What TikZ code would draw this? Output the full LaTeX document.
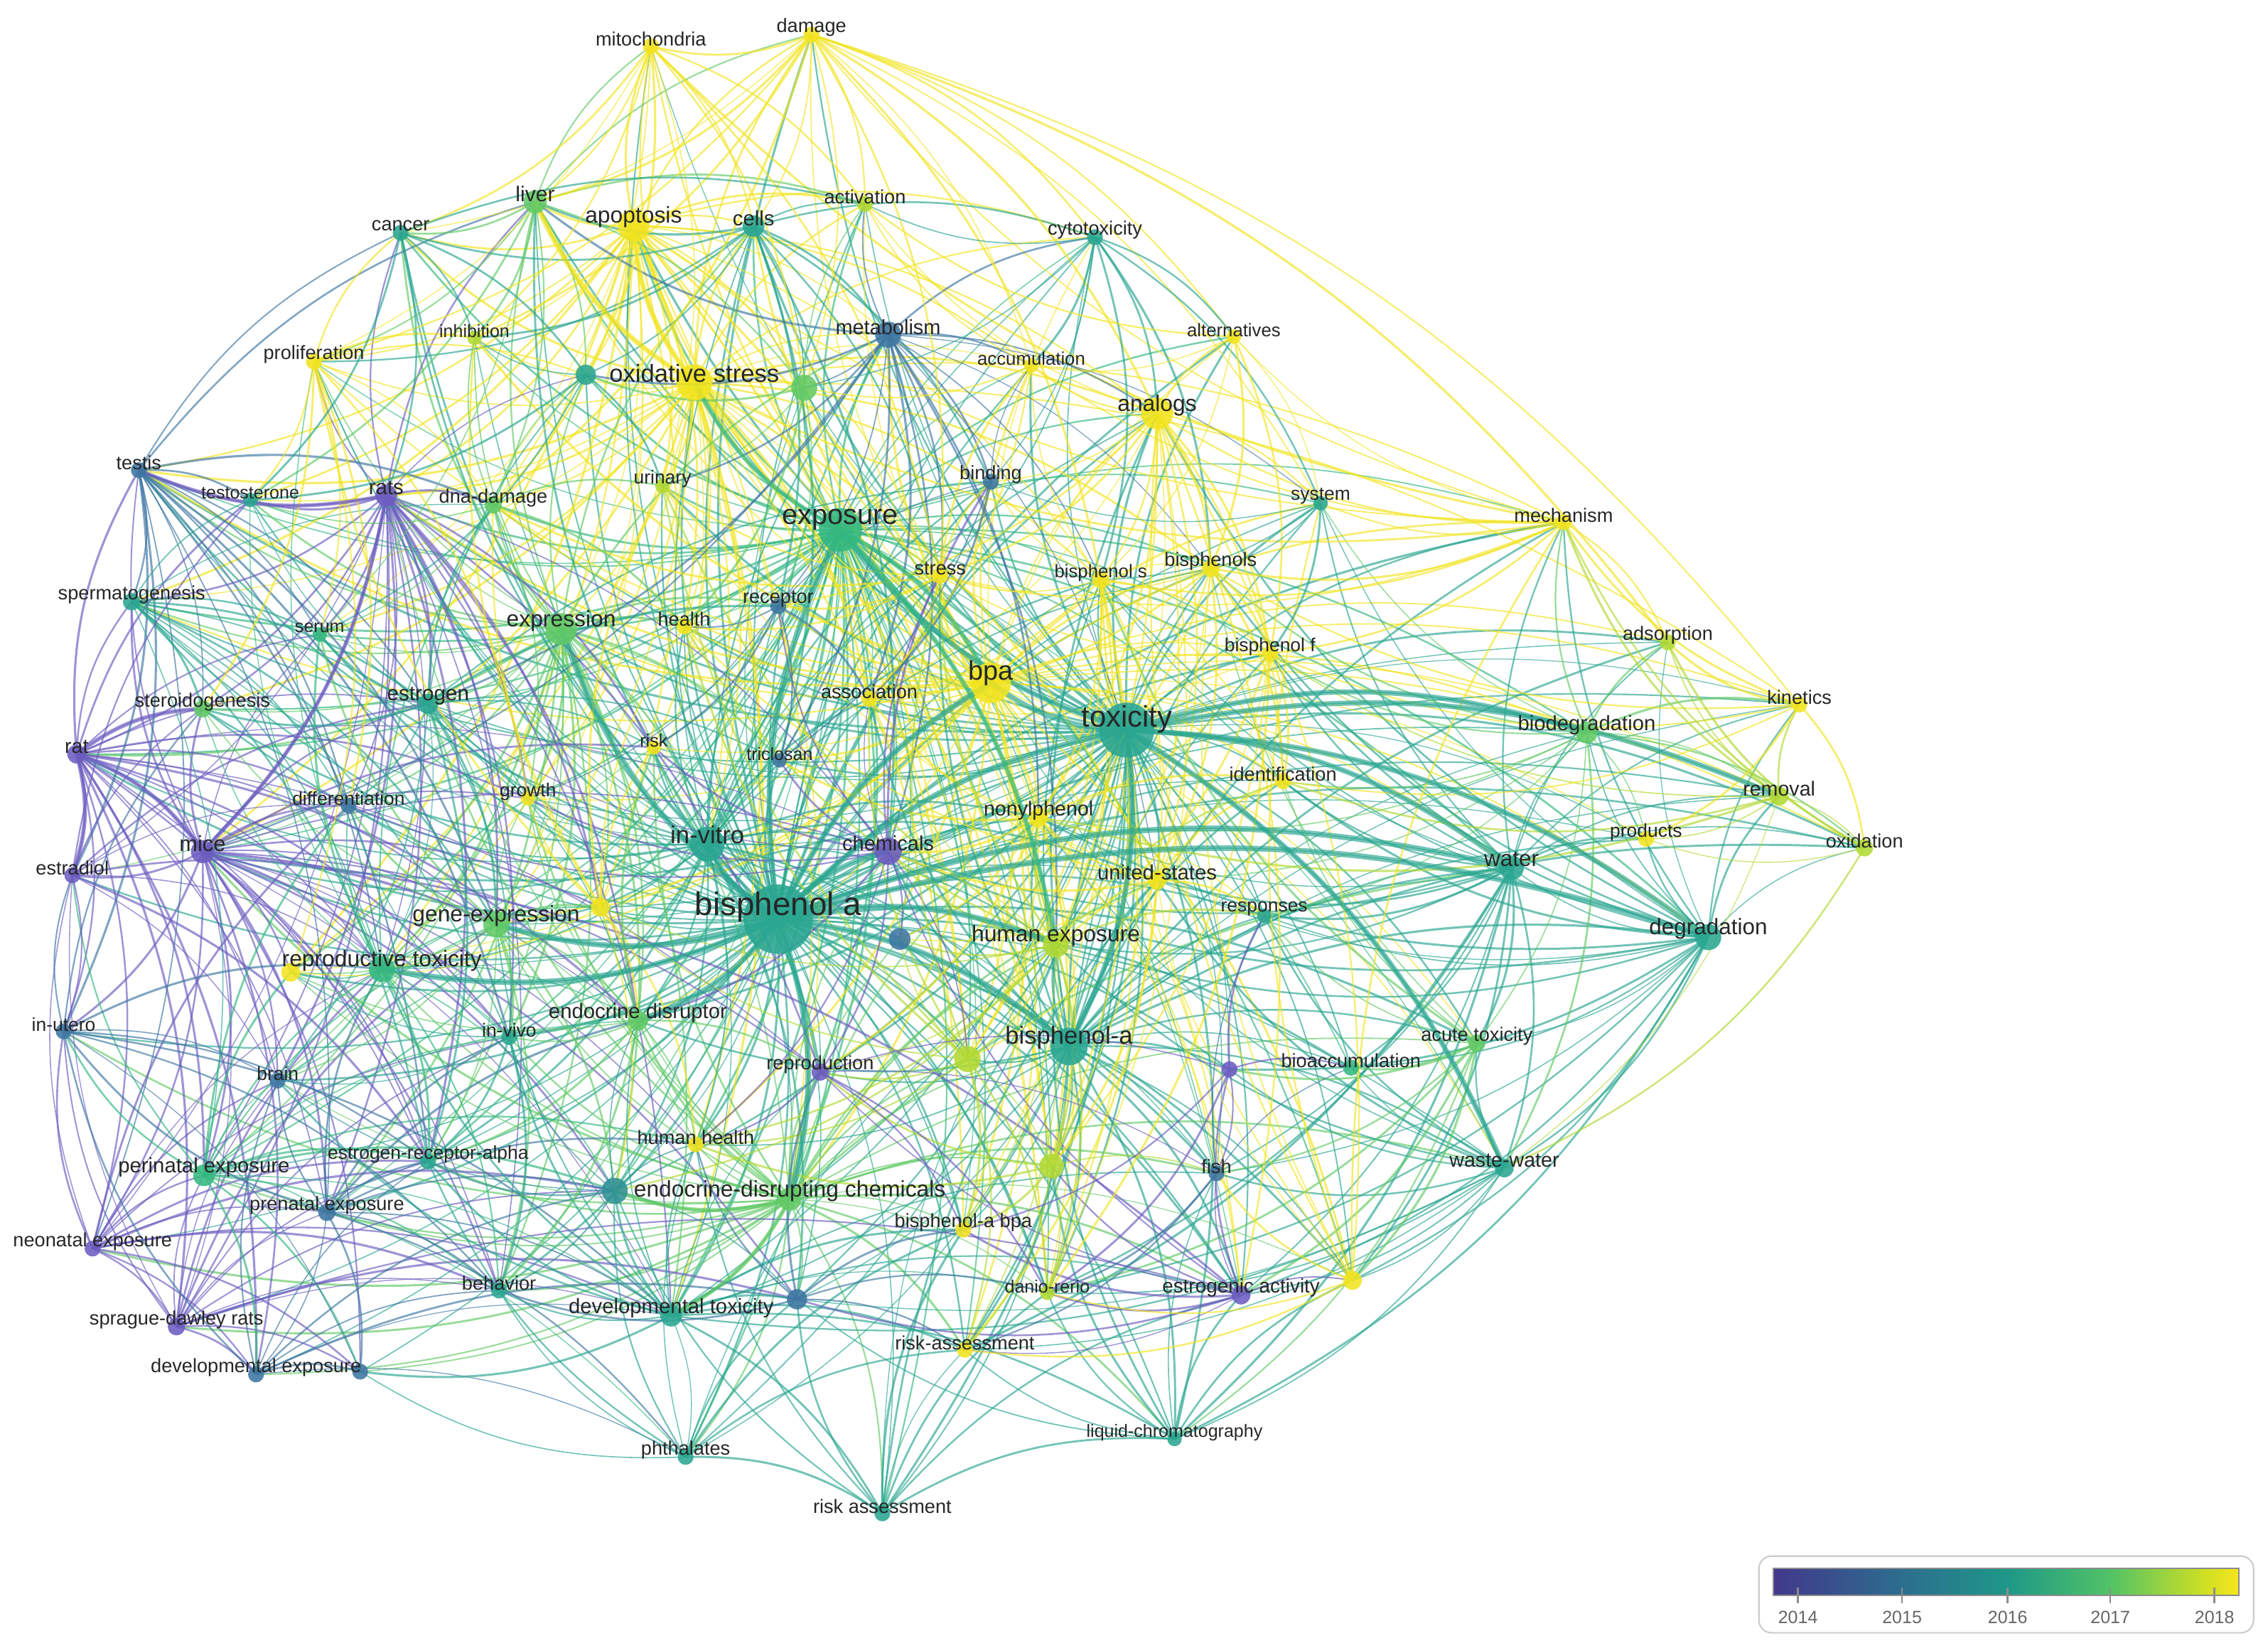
\documentclass[tikz,border=0pt]{standalone}
\usepackage{fontspec}
\setmainfont{Liberation Sans}
\usetikzlibrary{backgrounds}
\pgfdeclarelayer{edges}
\pgfdeclarelayer{dots}
\pgfsetlayers{edges,dots,main}
\definecolor{c14}{RGB}{108,92,192}
\definecolor{c15}{RGB}{62,118,162}
\definecolor{c155}{RGB}{48,145,148}
\definecolor{c16}{RGB}{42,166,145}
\definecolor{c165}{RGB}{52,184,128}
\definecolor{c17}{RGB}{98,202,102}
\definecolor{c175}{RGB}{178,217,52}
\definecolor{c18}{RGB}{242,228,32}
\tikzset{
  dot/.style={circle, inner sep=0pt, draw=none, fill opacity=0.88},
  lbl/.style={inner sep=0pt, text=black!85},
  edge/.style={line width={0.35pt+0.55pt*rnd}, draw opacity=0.66},
}
\newcommand\kw[7]{%
  \colorlet{k#1}{#5}%
  \begin{pgfonlayer}{dots}\node[dot, fill=#5, minimum size=#4*0.02cm] (#1) at (#2,#3+0.65*#6) {};\end{pgfonlayer}%
  \node[lbl, font=\fontsize{#6}{#6}\selectfont] (#1-t) at (#2,#3) {#7};}
\newcommand\kwu[5]{%
  \colorlet{k#1}{#5}%
  \begin{pgfonlayer}{dots}\node[dot, fill=#5, minimum size=#4*0.02cm] (#1) at (#2,#3) {};\end{pgfonlayer}}
\newcommand\hub[2]{\begin{pgfonlayer}{edges}\foreach \t in {#2}{\draw[edge, draw=k#1] (#1.center) to[bend left=17] (\t.center);}\end{pgfonlayer}}
\newcommand\hubw[3]{\begin{pgfonlayer}{edges}\foreach \t in {#3}{\draw[edge, line width=#2pt, draw=k#1] (#1.center) to[bend left=17] (\t.center);}\end{pgfonlayer}}
\begin{document}
\begin{tikzpicture}[x=0.02cm, y=-0.02cm]
\pgfmathsetseed{7}
\useasboundingbox (0,0) rectangle (1568,1139);
% ---------------- keywords ----------------
\kw{mito}{450}{27}{11}{c18}{7.6}{mitochondria}
\kw{damage}{561}{19}{11}{c18}{7.6}{damage}
\kw{liver}{370}{134}{16}{c17}{8.4}{liver}
\kw{apop}{438}{150}{22}{c18}{8.9}{apoptosis}
\kw{cells}{521}{151}{15}{c16}{8.2}{cells}
\kw{activ}{598}{136}{11}{c175}{7.6}{activation}
\kw{cytotox}{757}{159}{11}{c16}{7.6}{cytotoxicity}
\kw{cancer}{277}{156}{11}{c16}{7.6}{cancer}
\kw{inhib}{328}{229}{10}{c175}{7}{inhibition}
\kw{prolif}{217}{245}{11}{c18}{7.6}{proliferation}
\kw{oxs}{480}{258}{25}{c18}{9.7}{oxidative stress}
\kwu{tl1}{405}{259}{14}{c16}
\kwu{gn2}{556}{268}{18}{c17}
\kw{metab}{614}{226}{18}{c15}{8.1}{metabolism}
\kw{accum}{713}{248}{10}{c18}{7.2}{accumulation}
\kw{altern}{853}{228}{10}{c18}{7.2}{alternatives}
\kw{analogs}{800}{280}{22}{c18}{8.9}{analogs}
\kw{testis}{96}{320}{11}{c15}{7.6}{testis}
\kw{testost}{173}{341}{10}{c16}{7}{testosterone}
\kw{rats}{267}{337}{15}{c14}{8.2}{rats}
\kw{dnad}{341}{344}{12}{c17}{7.6}{dna-damage}
\kw{urinary}{458}{331}{10}{c175}{7.4}{urinary}
\kw{expo}{581}{359}{30}{c165}{11.1}{exposure}
\kw{binding}{685}{328}{11}{c15}{7.6}{binding}
\kw{system}{913}{343}{10}{c16}{7.4}{system}
\kw{mech}{1081}{356}{11}{c18}{7.6}{mechanism}
\kw{sperm}{91}{411}{12}{c16}{7.6}{spermatogenesis}
\kw{serum}{221}{434}{10}{c165}{7}{serum}
\kw{expr}{388}{429}{22}{c17}{8.9}{expression}
\kw{health}{473}{428}{11}{c18}{7.6}{health}
\kw{receptor}{538}{414}{11}{c15}{7.6}{receptor}
\kw{stress}{650}{393}{11}{c18}{7.6}{stress}
\kw{bps}{761}{396}{12}{c18}{7.2}{bisphenol s}
\kw{bisphs}{837}{388}{12}{c18}{7.6}{bisphenols}
\kw{bpf}{878}{447}{11}{c18}{7.4}{bisphenol f}
\kw{adsorp}{1153}{439}{11}{c175}{7.6}{adsorption}
\kw{steroid}{140}{485}{12}{c17}{7.6}{steroidogenesis}
\kw{estrogen}{296}{481}{14}{c16}{8.3}{estrogen}
\kw{assoc}{601}{478}{11}{c18}{7.6}{association}
\kw{bpa}{685}{465}{28}{c18}{10.6}{bpa}
\kw{tox}{779}{497}{38}{c16}{11.7}{toxicity}
\kw{kinetics}{1244}{482}{11}{c18}{7.6}{kinetics}
\kw{rat}{53}{516}{13}{c14}{8}{rat}
\kw{risk}{452}{512}{10}{c18}{7}{risk}
\kw{triclosan}{539}{521}{10}{c15}{7}{triclosan}
\kw{biodeg}{1097}{501}{15}{c17}{8.2}{biodegradation}
\kw{diff}{241}{552}{11}{c15}{7.4}{differentiation}
\kw{growth}{365}{547}{10}{c18}{7.4}{growth}
\kw{ident}{887}{535}{11}{c18}{7.6}{identification}
\kw{removal}{1230}{545}{13}{c175}{8}{removal}
\kw{mice}{140}{583}{16}{c14}{8.6}{mice}
\kw{invitro}{489}{577}{24}{c16}{9.7}{in-vitro}
\kw{chem}{614}{583}{19}{c14}{8.1}{chemicals}
\kw{nonyl}{718}{560}{13}{c18}{8}{nonylphenol}
\kw{products}{1138}{575}{11}{c18}{7.4}{products}
\kw{oxid}{1289}{581}{12}{c175}{7.6}{oxidation}
\kw{estradiol}{50}{600}{11}{c14}{7.6}{estradiol}
\kw{water}{1045}{594}{17}{c16}{8.8}{water}
\kw{us}{800}{603}{13}{c18}{8.2}{united-states}
\kw{geneexp}{343}{633}{18}{c17}{8.9}{gene-expression}
\kw{bpaA}{538}{627}{48}{c16}{12.8}{bisphenol a}
\kwu{yl3}{415}{627}{13}{c18}
\kwu{bl4}{622}{649}{15}{c15}
\kw{humexp}{730}{647}{18}{c175}{8.9}{human exposure}
\kw{responses}{874}{628}{10}{c16}{7.4}{responses}
\kw{degrad}{1181}{642}{18}{c16}{8.8}{degradation}
\kw{reprotox}{264}{664}{18}{c165}{8.9}{reproductive toxicity}
\kwu{yl5}{201}{672}{13}{c18}
\kw{inutero}{44}{708}{11}{c15}{7.4}{in-utero}
\kw{endodis}{441}{700}{14}{c17}{8.2}{endocrine disruptor}
\kw{invivo}{352}{712}{11}{c16}{7.4}{in-vivo}
\kw{bpaB}{739}{717}{26}{c16}{9.7}{bisphenol-a}
\kw{acute}{1021}{716}{12}{c17}{7.6}{acute toxicity}
\kw{bioacc}{934}{733}{11}{c165}{7.6}{bioaccumulation}
\kwu{pu6}{850}{739}{11}{c14}
\kw{repro}{567}{736}{12}{c14}{7.6}{reproduction}
\kwu{gn7}{669}{732}{18}{c175}
\kw{brain}{192}{742}{11}{c15}{7.4}{brain}
\kw{era}{296}{798}{11}{c16}{7.4}{estrogen-receptor-alpha}
\kw{humhealth}{481}{786}{11}{c18}{7.6}{human health}
\kw{perinatal}{141}{807}{15}{c165}{8.2}{perinatal exposure}
\kwu{gn8}{727}{806}{17}{c175}
\kw{fish}{841}{806}{11}{c15}{7.6}{fish}
\kw{ww}{1040}{802}{13}{c16}{8}{waste-water}
\kw{edc}{546}{823}{16}{c17}{8.9}{endocrine-disrupting chemicals}
\kwu{tl9}{425}{823}{18}{c155}
\kw{prenatal}{226}{833}{12}{c15}{7.6}{prenatal exposure}
\kw{neonatal}{64}{858}{11}{c14}{7.6}{neonatal exposure}
\kw{bpabpa}{666}{845}{11}{c18}{7.6}{bisphenol-a bpa}
\kw{behavior}{345}{887}{11}{c16}{7.6}{behavior}
\kw{devtox}{464}{904}{15}{c16}{8.2}{developmental toxicity}
\kwu{bl10}{551}{898}{14}{c15}
\kw{danio}{724}{889}{10}{c175}{7}{danio-rerio}
\kw{estract}{858}{890}{13}{c14}{7.8}{estrogenic activity}
\kwu{yl11}{935}{885}{13}{c18}
\kw{sdrats}{122}{912}{12}{c14}{7.6}{sprague-dawley rats}
\kw{devexp}{177}{945}{11}{c15}{7.6}{developmental exposure}
\kwu{dexp2}{249}{948}{11}{c15}
\kw{riskass2}{667}{928}{11}{c18}{7.6}{risk-assessment}
\kw{phthal}{474}{1002}{11}{c16}{7.6}{phthalates}
\kw{lcms}{812}{990}{10}{c16}{7}{liquid-chromatography}
\kw{riskass}{610}{1041}{11}{c16}{7.6}{risk assessment}
% ---------------- links ----------------
\hub{bpaA}{testis,sperm,rat,rats,mice,estradiol,inutero,neonatal,sdrats,devexp,dexp2,perinatal,prenatal,brain,reprotox,yl5,geneexp,invivo,endodis,era,behavior,devtox,phthal,riskass,tl9,bl10,edc,humhealth,repro,bpabpa,riskass2,danio,estract,yl11,lcms,fish,ww,gn8,gn7,bpaB,pu6,bioacc,acute,degrad,water,responses,humexp,us,bl4,chem,nonyl,invitro,yl3,growth,diff,risk,triclosan,assoc,bpa,tox,ident,biodeg,removal,kinetics,products,estrogen,steroid,serum,expr,health,receptor,stress,expo,urinary,dnad,testost,oxs,tl1,gn2,apop,liver,cells,metab,cancer,prolif,inhib,mito,damage,cytotox,activ,analogs,bps,bisphs,bpf,mech,system,binding,accum,altern,adsorp,oxid}
\hub{tox}{expo,oxs,apop,cells,metab,analogs,bps,bisphs,bpf,mech,system,adsorp,kinetics,biodeg,removal,oxid,products,water,degrad,acute,ww,bioacc,fish,estract,yl11,danio,lcms,riskass2,bpabpa,gn8,gn7,bpaB,humexp,us,responses,ident,nonyl,chem,invitro,repro,edc,devtox,bl10,invivo,endodis,reprotox,geneexp,yl3,growth,risk,triclosan,assoc,receptor,stress,health,expr,estrogen,rats,mice,testis,sperm,liver,cytotox,activ,damage,mito,altern,accum,binding,bl4,gn2,dnad,urinary,riskass,phthal,pu6,tl9}
\hub{expo}{oxs,apop,liver,cells,metab,activ,cytotox,cancer,prolif,inhib,tl1,gn2,dnad,urinary,rats,testis,testost,sperm,serum,expr,health,receptor,stress,bps,bisphs,bpf,analogs,accum,altern,binding,system,mech,bpa,assoc,estrogen,steroid,risk,triclosan,growth,diff,invitro,chem,nonyl,us,humexp,bl4,yl3,geneexp,reprotox,mice,rat,invivo,endodis,era,humhealth,edc,tl9,repro,gn7,gn8,bpaB,bpabpa,danio,devtox,phthal,riskass,riskass2,estract,water,degrad,ww,biodeg,perinatal,prenatal,brain,behavior,yl11,fish,bioacc,ident}
\hub{bpa}{analogs,bps,bisphs,bpf,stress,assoc,health,humexp,us,nonyl,oxs,apop,liver,mech,adsorp,kinetics,removal,biodeg,degrad,water,products,oxid,ident,accum,altern,binding,metab,cells,damage,mito,gn7,gn8,danio,bpabpa,riskass2,yl11,humhealth,risk,urinary,growth,dnad,expr,invitro,yl3,yl5,prolif,inhib,activ,cytotox,chem,triclosan,receptor,endodis,edc,ww,acute,system,estract,reprotox,geneexp,sperm,testis,rats}
\hub{oxs}{apop,liver,mito,damage,cells,activ,cytotox,inhib,prolif,dnad,tl1,gn2,metab,expr,urinary,health,stress,invitro,geneexp,reprotox,rats,testis,sperm,serum,yl3,yl5,risk,growth,humhealth,edc,devtox,gn7,gn8,bpabpa,danio,analogs,accum,mech,cancer,testost,steroid,mice,assoc,bps,bisphs,nonyl,humexp,us,kinetics}
\hub{apop}{mito,damage,liver,cells,activ,cancer,prolif,inhib,expr,dnad,rats,testis,sperm,tl1,gn2,metab,cytotox,invitro,geneexp,reprotox,mice,yl3,yl5,growth,edc,danio,gn7,gn8,accum,analogs,stress,health,urinary,serum,testost,bps,humexp}
\hub{expr}{estrogen,rats,testis,sperm,steroid,serum,testost,diff,growth,mice,rat,geneexp,reprotox,invitro,invivo,endodis,era,brain,perinatal,prenatal,tl1,yl3,yl5,liver,cells,prolif,cancer,inhib,dnad,receptor,health,risk,triclosan,metab,edc,devtox,behavior,chem,repro,estradiol,tl9}
\hub{invitro}{estrogen,receptor,binding,metab,cells,chem,triclosan,risk,growth,diff,mice,rat,rats,testis,sperm,steroid,geneexp,reprotox,invivo,endodis,era,humhealth,edc,devtox,tl9,bl10,repro,bpaB,estract,fish,danio,bpabpa,bl4,nonyl,humexp,us,assoc,stress,health,cancer,prolif,liver,cytotox,analogs,bps,bisphs}
\hub{edc}{devtox,phthal,riskass,bl10,tl9,behavior,era,perinatal,prenatal,neonatal,sdrats,devexp,dexp2,brain,inutero,reprotox,geneexp,invivo,endodis,humhealth,repro,bpabpa,riskass2,danio,estract,lcms,fish,gn7,gn8,bpaB,humexp,chem,bl4,growth,risk,estrogen,mice,rats,ww,water,acute,yl11,yl3,yl5,us,nonyl}
\hub{bpaB}{degrad,water,ww,acute,bioacc,pu6,fish,estract,yl11,lcms,danio,gn8,gn7,bpabpa,riskass2,humexp,us,responses,chem,bl4,nonyl,ident,biodeg,removal,products,kinetics,oxid,adsorp,mech,system,repro,devtox,bl10,humhealth,endodis,riskass,phthal,bps,bisphs,bpf,analogs,stress,assoc}
\hub{degrad}{biodeg,removal,products,oxid,kinetics,adsorp,water,ww,acute,bioacc,ident,responses,mech,system,yl11,estract,fish,lcms,us,nonyl,humexp,bpf,bps,bisphs,analogs,chem,pu6,danio}
\hub{water}{biodeg,removal,products,oxid,kinetics,adsorp,ww,acute,bioacc,ident,responses,mech,nonyl,us,humexp,yl11,fish,estract,lcms,riskass2,danio,chem,system,bpf,bps}
\hub{biodeg}{removal,kinetics,products,oxid,adsorp,ww,ident,mech,nonyl,system,bisphs,bpf,acute,responses,us}
\hub{removal}{kinetics,adsorp,oxid,products,ww,mech,ident,bpf,nonyl}
\hub{kinetics}{adsorp,oxid,products,mech,ident,bpf,bisphs}
\hub{oxid}{products,adsorp,mech,ww}
\hub{mech}{adsorp,analogs,altern,bisphs,bps,oxs,apop,damage,system,accum,bpf,stress,mito}
\hub{ww}{acute,bioacc,fish,estract,lcms,yl11,danio,nonyl,us,humexp,riskass2,responses,bl10,devtox,pu6}
\hub{acute}{fish,bioacc,danio,estract,yl11,responses,bps,bisphs,pu6,lcms,ident}
\hub{rats}{testis,testost,sperm,steroid,serum,estrogen,dnad,diff,mice,rat,estradiol,geneexp,reprotox,invivo,brain,perinatal,prenatal,neonatal,sdrats,era,behavior,devtox,liver,growth,risk,endodis,tl1,cancer,prolif,yl3,chem,repro}
\hub{rat}{testis,sperm,steroid,estrogen,estradiol,mice,diff,inutero,neonatal,sdrats,perinatal,prenatal,brain,reprotox,geneexp,era,invivo,endodis,behavior,serum,testost,growth,chem,repro,devexp}
\hub{mice}{estradiol,diff,estrogen,steroid,sperm,testis,inutero,neonatal,sdrats,devexp,dexp2,perinatal,prenatal,brain,reprotox,geneexp,invivo,endodis,era,behavior,devtox,growth,risk,yl5,yl3,chem,repro,serum,tl9,humhealth,bl10,estract}
\hub{testis}{testost,sperm,steroid,estrogen,serum,reprotox,geneexp,invivo,diff,era,liver,dnad,cancer,estradiol,neonatal,inutero,prenatal}
\hub{sperm}{steroid,reprotox,geneexp,estrogen,serum,invivo,testost,dnad,diff,era,perinatal,growth}
\hub{neonatal}{sdrats,devexp,perinatal,prenatal,inutero,brain,behavior,era,devtox,reprotox,estradiol,dexp2,invivo,tl9,diff}
\hub{sdrats}{devexp,dexp2,perinatal,prenatal,inutero,brain,behavior,era,devtox,reprotox,estradiol,invivo,tl9,bl10,estract,geneexp}
\hub{perinatal}{prenatal,devexp,dexp2,brain,behavior,era,devtox,reprotox,geneexp,invivo,endodis,inutero,tl9,humhealth,phthal,diff,estradiol,yl5}
\hub{prenatal}{devexp,dexp2,brain,behavior,era,devtox,reprotox,invivo,endodis,tl9,phthal,humhealth,inutero}
\hub{devexp}{dexp2,behavior,brain,era,devtox,tl9,phthal,inutero,bl10}
\hub{inutero}{estradiol,brain,era,dexp2,reprotox,behavior,devtox,steroid}
\hub{estradiol}{steroid,estrogen,diff,brain,reprotox,era,geneexp,inutero,testost}
\hub{devtox}{phthal,riskass,bl10,tl9,behavior,era,dexp2,brain,reprotox,geneexp,invivo,endodis,humhealth,repro,bpabpa,riskass2,danio,estract,lcms,fish}
\hub{phthal}{riskass,bl10,tl9,behavior,era,riskass2,bpabpa,humexp,humhealth,dexp2}
\hub{riskass}{bl10,riskass2,lcms,humexp,humhealth,bpabpa,danio,estract,tl9,us}
\hub{lcms}{estract,danio,yl11,fish,riskass2,gn8,bl10,humexp}
\hub{estract}{yl11,danio,fish,riskass2,chem,repro,pu6,bpabpa,bl10,gn8}
\hub{yl11}{danio,fish,bps,analogs,mech,system,bisphs,riskass2,us}
\hub{cells}{metab,activ,cytotox,liver,tl1,gn2,cancer,prolif,inhib,receptor,binding,stress,chem,triclosan}
\hub{metab}{activ,cytotox,accum,binding,receptor,liver,tl1,gn2,chem,triclosan,analogs,bps,bisphs,humexp,us,stress,estrogen,urinary,mice,assoc,nonyl,system}
\hub{liver}{mito,damage,cancer,inhib,prolif,tl1,dnad,activ,gn2,testost,serum}
\hub{damage}{mito,liver,cells,activ,cytotox,analogs,accum,altern,dnad,inhib,gn2,stress,bps,kinetics,adsorp,system,prolif,cancer}
\hub{mito}{liver,cells,activ,dnad,inhib,prolif,gn2,tl1,cancer,stress,urinary}
\hub{cytotox}{activ,analogs,bps,bisphs,binding,system,altern,accum,gn2,stress}
\hub{analogs}{bps,bisphs,bpf,altern,accum,binding,system,stress,activ,humexp,us,nonyl,ident,assoc,receptor,gn7,gn8,danio,estract,yl11}
\hub{altern}{bps,bisphs,bpf,accum,system,activ}
\hub{system}{bisphs,bps,bpf,binding}
\hub{bps}{bisphs,bpf,stress,assoc,humexp,us,nonyl,gn7,gn8,danio,bpabpa,binding,accum,ident}
\hub{bisphs}{bpf,stress,assoc,humexp,us,nonyl,ident}
\hub{bpf}{stress,assoc,humexp,us,nonyl,ident,gn8,danio}
\hub{humexp}{us,nonyl,chem,bl4,assoc,stress,health,urinary,gn7,gn8,bpabpa,riskass2,humhealth,danio,yl3,responses,ident,repro,tl9}
\hub{us}{nonyl,chem,bl4,assoc,responses,ident,gn7,gn8,urinary,health,riskass2}
\hub{nonyl}{chem,bl4,assoc,stress,triclosan,ident,responses,gn7,gn8,fish,repro,estract}
\hub{chem}{bl4,assoc,stress,receptor,triclosan,risk,growth,binding,repro,gn7,humhealth,endodis,estrogen,diff}
\hub{estrogen}{steroid,serum,diff,growth,risk,receptor,geneexp,reprotox,invivo,endodis,era,brain,triclosan,tl1,dnad,testost,binding}
\hub{geneexp}{reprotox,invivo,endodis,era,diff,growth,steroid,serum,yl3,yl5,brain,behavior,tl9,humhealth,risk}
\hub{reprotox}{yl5,invivo,endodis,era,diff,growth,steroid,serum,yl3,brain,behavior,tl9,dnad,testost,prolif}
\hub{gn7}{gn8,danio,bpabpa,riskass2,humhealth,repro,bl4,stress,health,urinary,assoc,yl3}
\hub{gn8}{danio,bpabpa,riskass2,fish,repro,humhealth}
\hub{stress}{assoc,health,receptor,urinary,binding,accum,gn2,dnad}
\hub{yl3}{yl5,growth,risk,health,urinary,dnad,prolif,inhib,humhealth,endodis,tl9}
\hub{prolif}{cancer,inhib,tl1,dnad,testost,serum,growth,diff,yl5,steroid}
\hub{cancer}{inhib,tl1,testost,rats,activ}
\hub{dnad}{urinary,health,tl1,inhib,serum,testost,growth}
\hub{tl9}{behavior,era,humhealth,bl10,invivo,endodis,brain}
\hub{bl10}{humhealth,repro,bpabpa,riskass2,danio,behavior}
\hub{endodis}{invivo,era,humhealth,repro,behavior,yl5,risk,growth}
\hub{invivo}{era,brain,behavior,yl5,diff}
\hub{repro}{bpabpa,humhealth,danio,fish,pu6}
\hub{pu6}{fish,bioacc,responses,bpabpa,danio}
\hub{fish}{bioacc,danio,responses,riskass2}
\hub{receptor}{binding,triclosan,assoc,health,risk,growth}
\hub{binding}{accum,assoc,triclosan}
\hub{accum}{activ,gn2,assoc}
\hub{gn2}{tl1,activ,urinary,health,receptor}
\hub{tl1}{urinary,inhib,testost,serum}
% strong links
\hubw{bpaA}{2.2}{tox,expo,invitro,edc,bpa,bpaB,expr,chem,geneexp,reprotox,humexp,water,degrad,endodis}
\hubw{tox}{2}{bpa,degrad,water,biodeg,bpaB,expo,removal,ww}
\hubw{expo}{1.8}{oxs,bpa,humexp}
\hubw{oxs}{2}{apop,liver}
\hubw{rat}{1.6}{mice,estradiol,steroid}
\hubw{rats}{1.5}{testis,mice}
\hubw{edc}{1.6}{devtox,tl9}
% ---------------- legend ----------------
\node[draw=black!20, line width=0.6pt, rounded corners=5pt, fill=white, minimum width=342*0.02cm, minimum height=53*0.02cm, inner sep=0pt] (legbox) at (1387,1102) {};
\node[inner sep=0pt, minimum width=321*0.02cm, minimum height=18*0.02cm] (bar) at (1387,1093.5) {};
\shade[left color={rgb,255:red,66;green,56;blue,140}, right color={rgb,255:red,44;green,110;blue,142}] (1226,1084.5) rectangle (1315.5,1102.5);
\shade[left color={rgb,255:red,44;green,110;blue,142}, right color={rgb,255:red,30;green,152;blue,136}] (1315,1084.5) rectangle (1388.5,1102.5);
\shade[left color={rgb,255:red,30;green,152;blue,136}, right color={rgb,255:red,82;green,195;blue,102}] (1388,1084.5) rectangle (1459.5,1102.5);
\shade[left color={rgb,255:red,82;green,195;blue,102}, right color={rgb,255:red,200;green,222;blue,38}] (1459,1084.5) rectangle (1520.5,1102.5);
\shade[left color={rgb,255:red,200;green,222;blue,38}, right color={rgb,255:red,246;green,230;blue,28}] (1520,1084.5) rectangle (1547.5,1102.5);
\draw[black!45, line width=0.6pt] (bar.north west) rectangle (bar.south east);
\foreach \yr/\xx in {2014/1243,2015/1315,2016/1388,2017/1459,2018/1531}{
  \draw[black!45, line width=0.7pt] (\xx,1097) -- (\xx,1108);
  \node[inner sep=0pt, text=black!60, font=\fontsize{7}{7}\selectfont] (yr\yr) at (\xx,1118) {\yr};
}
\end{tikzpicture}
\end{document}
